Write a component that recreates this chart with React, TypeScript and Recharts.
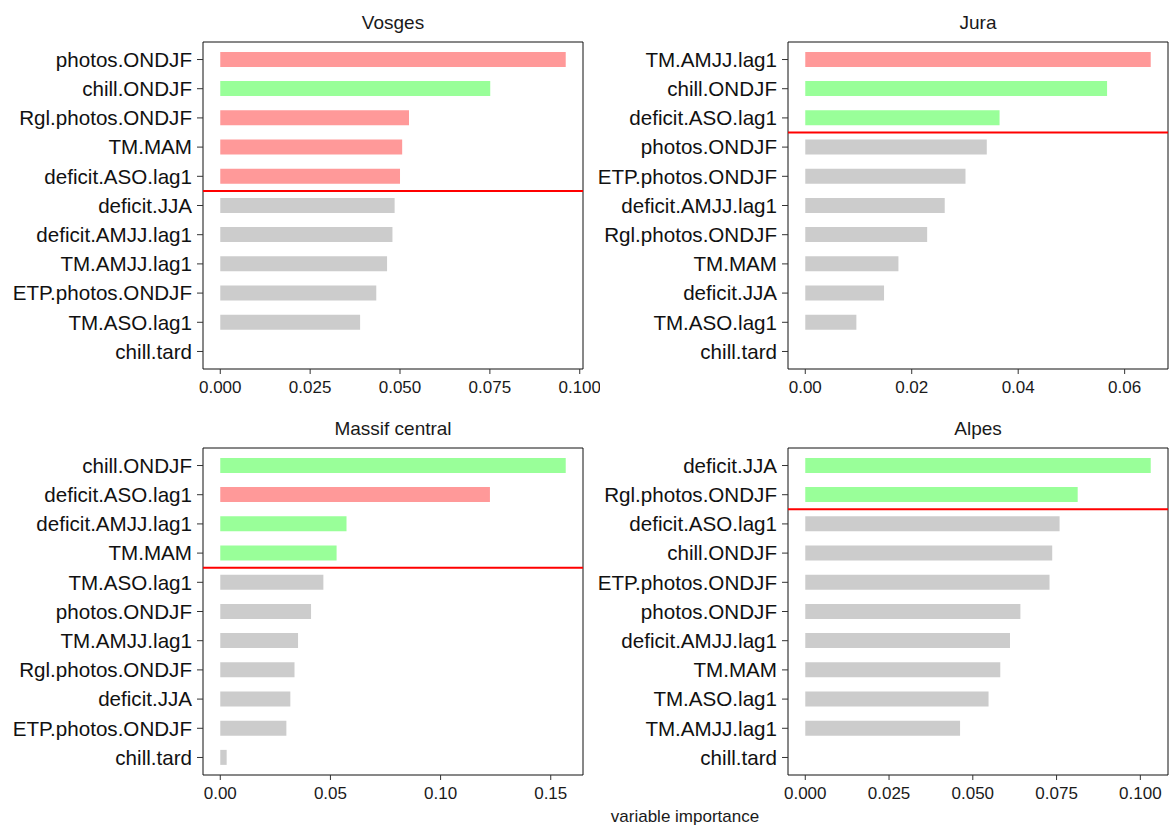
import React from 'react';
import { BarChart, Bar, XAxis, YAxis, Cell, ReferenceLine, ReferenceArea } from 'recharts';

// variable importance per massif, ordered as drawn (top to bottom)
const vosgesVars = ['photos.ONDJF', 'chill.ONDJF', 'Rgl.photos.ONDJF', 'TM.MAM', 'deficit.ASO.lag1', 'deficit.JJA', 'deficit.AMJJ.lag1', 'TM.AMJJ.lag1', 'ETP.photos.ONDJF', 'TM.ASO.lag1', 'chill.tard'];
const vosgesImp = [0.0961, 0.0751, 0.0525, 0.0506, 0.05, 0.0485, 0.0479, 0.0464, 0.0434, 0.0389, 0];
const vosgesEffect = ['-', '+', '-', '-', '-', '', '', '', '', '', ''];
const vosgesTicks = [0, 0.025, 0.05, 0.075, 0.1];

const juraVars = ['TM.AMJJ.lag1', 'chill.ONDJF', 'deficit.ASO.lag1', 'photos.ONDJF', 'ETP.photos.ONDJF', 'deficit.AMJJ.lag1', 'Rgl.photos.ONDJF', 'TM.MAM', 'deficit.JJA', 'TM.ASO.lag1', 'chill.tard'];
const juraImp = [0.0649, 0.0567, 0.0365, 0.0341, 0.0301, 0.0262, 0.0229, 0.0175, 0.0148, 0.0096, 0];
const juraEffect = ['-', '+', '+', '', '', '', '', '', '', '', ''];
const juraTicks = [0, 0.02, 0.04, 0.06];

const massifVars = ['chill.ONDJF', 'deficit.ASO.lag1', 'deficit.AMJJ.lag1', 'TM.MAM', 'TM.ASO.lag1', 'photos.ONDJF', 'TM.AMJJ.lag1', 'Rgl.photos.ONDJF', 'deficit.JJA', 'ETP.photos.ONDJF', 'chill.tard'];
const massifImp = [0.1568, 0.1224, 0.0573, 0.0528, 0.0468, 0.0412, 0.0353, 0.0337, 0.0318, 0.03, 0.0029];
const massifEffect = ['+', '-', '+', '+', '', '', '', '', '', '', ''];
const massifTicks = [0, 0.05, 0.1, 0.15];

const alpesVars = ['deficit.JJA', 'Rgl.photos.ONDJF', 'deficit.ASO.lag1', 'chill.ONDJF', 'ETP.photos.ONDJF', 'photos.ONDJF', 'deficit.AMJJ.lag1', 'TM.MAM', 'TM.ASO.lag1', 'TM.AMJJ.lag1', 'chill.tard'];
const alpesImp = [0.1031, 0.0813, 0.0759, 0.0737, 0.0729, 0.0642, 0.0611, 0.0582, 0.0547, 0.0462, 0];
const alpesEffect = ['+', '+', '', '', '', '', '', '', '', '', ''];
const alpesTicks = [0, 0.025, 0.05, 0.075, 0.1];

const effectColor: Record<string, string> = { '+': '#99FF99', '-': '#FF9999', '': '#CCCCCC' };
const FONT = '"Liberation Sans", Arial, sans-serif';

interface PanelProps {
  title: string;
  vars: string[];
  imp: number[];
  effect: string[];
  ticks: number[];
  digits: number;
  left: number;
  top: number;
}

const Panel: React.FC<PanelProps> = ({ title, vars, imp, effect, ticks, digits, left, top }) => {
  const data = vars.map((name, i) => ({ name, pos: i, value: imp[i], effect: effect[i] }));
  const max = Math.max(...imp);
  const xDomain = [-0.05 * max, 1.05 * max];
  // number of selected variables -> cut line sits below them
  const nSel = effect.filter((e) => e !== '').length;

  return (
    <div style={{ position: 'absolute', left, top, width: 584, height: 400 }}>
      <div
        style={{
          position: 'absolute', left: 203, top: 13, width: 380, textAlign: 'center',
          fontSize: 19, lineHeight: '19px', color: '#1a1a1a', fontFamily: FONT,
        }}
      >
        {title}
      </div>
      <BarChart
        width={600}
        height={400}
        data={data}
        layout="vertical"
        margin={{ top: 42, right: 17, bottom: 1, left: 0 }}
      >
        <XAxis
          type="number"
          dataKey="value"
          domain={xDomain}
          ticks={ticks}
          allowDataOverflow
          tickFormatter={(v: number) => v.toFixed(digits)}
          tick={{ fontSize: 17, fill: '#1a1a1a', fontFamily: FONT }}
          tickSize={5}
          tickMargin={7}
          tickLine={{ stroke: '#333' }}
          axisLine={false}
          height={30}
        />
        <YAxis
          type="number"
          dataKey="pos"
          domain={[-0.6, vars.length - 0.4]}
          ticks={vars.map((_, i) => i)}
          interval={0}
          allowDataOverflow
          tickFormatter={(i: number) => vars[i]}
          tick={{ fontSize: 20.6, fill: '#111', fontFamily: FONT }}
          tickSize={6}
          tickMargin={5}
          tickLine={{ stroke: '#333' }}
          axisLine={false}
          width={203}
        />
        <Bar dataKey="value" barSize={15} isAnimationActive={false}>
          {data.map((d, i) => (
            <Cell key={`cell-${i}`} fill={effectColor[d.effect]} />
          ))}
        </Bar>
        <ReferenceLine y={nSel - 0.5} stroke="#FF0000" strokeWidth={2} />
        <ReferenceArea
          x1={xDomain[0]}
          x2={xDomain[1]}
          y1={-0.6}
          y2={vars.length - 0.4}
          fill="none"
          fillOpacity={0}
          stroke="#111"
          strokeWidth={1}
        />
      </BarChart>
    </div>
  );
};

const App: React.FC = () => {
  return (
    <div style={{ position: 'absolute', left: 0, top: 0, width: 1169, height: 827, background: '#fff', fontFamily: FONT }}>
      <Panel title="Vosges" vars={vosgesVars} imp={vosgesImp} effect={vosgesEffect} ticks={vosgesTicks} digits={3} left={0} top={0} />
      <Panel title="Jura" vars={juraVars} imp={juraImp} effect={juraEffect} ticks={juraTicks} digits={2} left={585} top={0} />
      <Panel title="Massif central" vars={massifVars} imp={massifImp} effect={massifEffect} ticks={massifTicks} digits={2} left={0} top={406} />
      <Panel title="Alpes" vars={alpesVars} imp={alpesImp} effect={alpesEffect} ticks={alpesTicks} digits={3} left={585} top={406} />
      <div
        style={{
          position: 'absolute', left: 485, top: 808, width: 400, textAlign: 'center',
          fontSize: 17, lineHeight: '17px', color: '#1a1a1a',
        }}
      >
        variable importance
      </div>
    </div>
  );
};

export default App;
